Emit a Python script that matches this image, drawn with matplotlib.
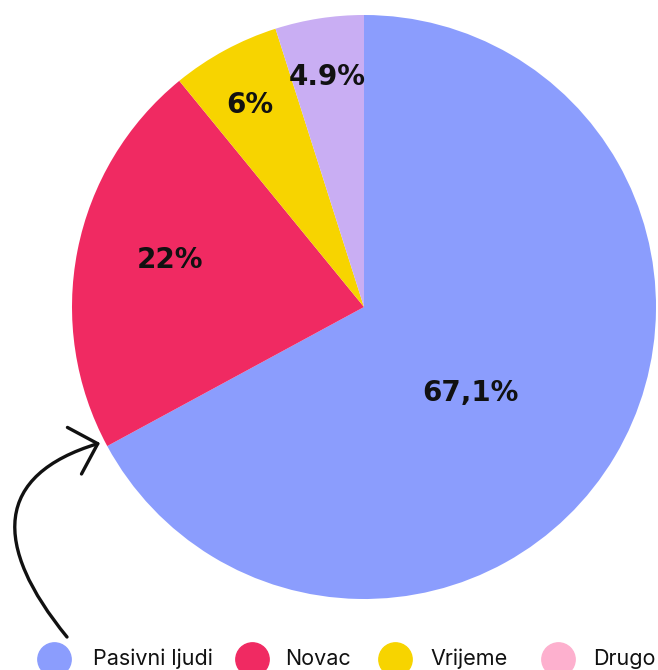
import numpy as np
import matplotlib.pyplot as plt
from matplotlib.lines import Line2D
from matplotlib.patches import FancyArrowPatch
from matplotlib.path import Path

# Data
categories = ['Pasivni ljudi', 'Novac', 'Vrijeme', 'Drugo']
values = [67.1, 22, 6, 4.9]
pct_labels = ['67,1%', '22%', '6%', '4.9%']
slice_colors = ['#8B9DFD', '#F02A62', '#F7D400', '#C9AEF3']
legend_colors = ['#8B9DFD', '#F02A62', '#F7D400', '#FDB0CE']

# label positions inside the pie (data units, radius = 1)
label_xy = [(0.363, -0.295), (-0.664, 0.161), (-0.390, 0.692), (-0.127, 0.788)]

W, H = 658, 670
fig = plt.figure(figsize=(W / 100, H / 100), dpi=100)
ax = fig.add_axes([72 / W, 71 / H, 584 / W, 584 / H])

wedges, _ = ax.pie(values, colors=slice_colors, startangle=90, counterclock=False,
                   radius=1, wedgeprops={'linewidth': 0})
ax.set_xlim(-1, 1)
ax.set_ylim(-1, 1)
ax.set_aspect('auto')
ax.axis('off')

for (x, y), lab in zip(label_xy, pct_labels):
    ax.text(x, y, lab, ha='center', va='center', fontsize=20,
            fontweight='heavy', color='#111111')


def fpt(x, y):
    # pixel position (top-left origin) -> figure fraction
    return (x / W, 1 - y / H)


# hand-drawn style arrow pointing at the blue wedge
arrow_path = Path([fpt(67, 637), fpt(-8, 545), fpt(-6, 475), fpt(100, 443)],
                  [Path.MOVETO, Path.CURVE4, Path.CURVE4, Path.CURVE4])
arrow = FancyArrowPatch(path=arrow_path, transform=fig.transFigure,
                        arrowstyle='->,head_length=1.75,head_width=1.75',
                        mutation_scale=10, linewidth=2.4, color='#111111',
                        capstyle='round', joinstyle='round')
fig.patches.append(arrow)

# legend, laid out by hand along the bottom edge
marker_x = [54, 252, 395, 558]
text_x = [93, 285, 430, 593]
leg_y = 659
for mx, tx, c, name in zip(marker_x, text_x, legend_colors, categories):
    fig.add_artist(Line2D([mx / W], [1 - leg_y / H], marker='o', markersize=24,
                          markerfacecolor=c, markeredgecolor=c, linestyle='',
                          transform=fig.transFigure))
    fig.text(tx / W, 1 - leg_y / H, name, ha='left', va='center', fontsize=15.5,
             family='Inter', color='#111111')

plt.savefig('out.png', dpi=100)
